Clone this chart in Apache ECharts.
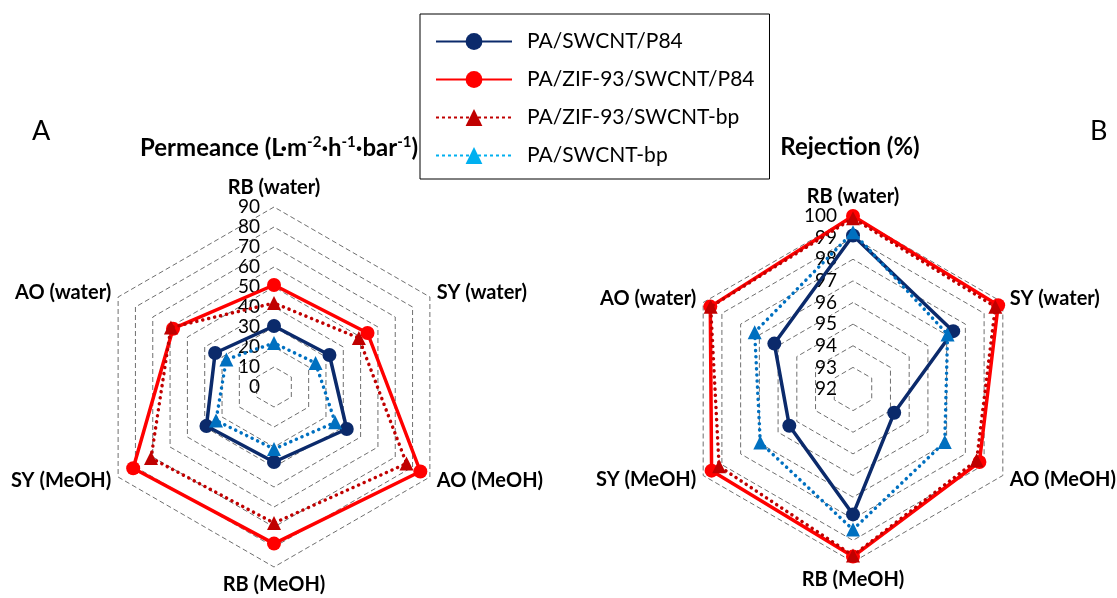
<!DOCTYPE html>
<html>
<head>
<meta charset="utf-8">
<script src="https://cdn.jsdelivr.net/npm/echarts@6/dist/echarts.min.js"></script>
<style>
  html, body { margin: 0; padding: 0; background: #fff; }
  #chart { width: 1117px; height: 598px; }
</style>
</head>
<body>
<div id="chart"></div>
<script>
// Axes, listed clockwise from the top
const axes = ['RB (water)', 'SY (water)', 'AO (MeOH)', 'RB (MeOH)', 'SY (MeOH)', 'AO (water)'];
const membranes = ['PA/SWCNT/P84', 'PA/ZIF-93/SWCNT/P84', 'PA/ZIF-93/SWCNT-bp', 'PA/SWCNT-bp'];

// Permeance, L·m-2·h-1·bar-1 (same axis order)
const permP84 = [30.5, 32, 42, 37.5, 39, 34];
const permZifP84 = [51, 54, 84.5, 78.3, 81.3, 58.3];
const permZifBp = [42, 49, 76.5, 68, 71, 59.5];
const permBp = [22, 24, 35.3, 31, 33.5, 27.5];

// Rejection, % (same axis order)
const rejP84 = [99.1, 97.35, 94.2, 97.8, 95.4, 96.2];
const rejZifP84 = [100, 99.75, 98.75, 99.75, 99.55, 99.62];
const rejZifBp = [99.9, 99.6, 98.6, 99.7, 99.15, 99.6];
const rejBp = [99.25, 97.05, 96.9, 98.5, 96.95, 97.25];

const permTicks = { min: 0, max: 90, split: 9 };
const rejTicks = { min: 92, max: 100, split: 8 };

const DOTS = [0.1, 6];
const styles = [
  { color: '#0b2a6b', legendColor: '#0b2a6b', symbol: 'circle', dash: 'solid', legendDash: 'solid', cap: 'butt' },
  { color: '#ff0000', legendColor: '#ff0000', symbol: 'circle', dash: 'solid', legendDash: 'solid', cap: 'butt' },
  { color: '#c00000', legendColor: '#c00000', symbol: 'triangle', dash: DOTS, legendDash: [3, 3], cap: 'round' },
  { color: '#0070c0', legendColor: '#00b0f0', symbol: 'triangle', dash: DOTS, legendDash: [3, 3], cap: 'round' }
];

const FONT = 'Lato, "Open Sans", sans-serif';

// ECharts lays radar indicators out counter-clockwise, so reverse all but the first
function ccw(arr) { return [arr[0]].concat(arr.slice(1).reverse()); }

function indicators(t) {
  return ccw(axes).map((name, i) => {
    const ind = { name: name, min: t.min, max: t.max };
    if (i === 0) ind.axisLabel = { show: true };
    return ind;
  });
}

function radarOpt(center, radius, t, margin) {
  return {
    center: center,
    radius: radius,
    startAngle: 90,
    shape: 'polygon',
    splitNumber: t.split,
    indicator: indicators(t),
    axisName: { color: '#000', fontFamily: FONT, fontWeight: 'bold', fontSize: 20 },
    nameGap: 8,
    axisLine: { show: false },
    axisTick: { show: false },
    axisLabel: {
      show: false, color: '#000', fontFamily: FONT, fontSize: 19,
      margin: margin
    },
    splitLine: { lineStyle: { color: '#6f6f6f', width: 1, type: [5, 3] } },
    splitArea: { show: false }
  };
}

const permSets = [permP84, permZifP84, permZifBp, permBp];
const rejSets = [rejP84, rejZifP84, rejZifBp, rejBp];

const series = [];
// line series carry the legend icons (line + marker)
membranes.forEach((name, i) => {
  const s = styles[i];
  series.push({
    type: 'line', name: name, xAxisIndex: 0, yAxisIndex: 0, data: [],
    symbol: s.symbol, symbolSize: 13,
    itemStyle: { color: s.legendColor },
    lineStyle: { color: s.legendColor, width: 3, type: s.legendDash }
  });
});
[permSets, rejSets].forEach((sets, r) => {
  membranes.forEach((name, i) => {
    const s = styles[i];
    series.push({
      type: 'radar', name: name, radarIndex: r,
      symbol: s.symbol, symbolSize: 14,
      z: 2 + i,
      itemStyle: { color: s.color },
      lineStyle: { color: s.color, width: 3.5, type: s.dash, cap: s.cap },
      data: [{ value: ccw(sets[i]), name: name }],
      emphasis: { disabled: true }
    });
  });
});

const titleRich = {
  b: { fontFamily: FONT, fontSize: 24, fontWeight: 'bold', color: '#000' },
  s: { fontFamily: FONT, fontSize: 15, fontWeight: 'bold', color: '#000', verticalAlign: 'top', padding: [0, 0, 11, 0] }
};

const chart = echarts.init(document.getElementById('chart'), null, { renderer: 'canvas' });
chart.setOption({
  animation: false,
  backgroundColor: '#fff',
  textStyle: { fontFamily: FONT },
  title: [
    { text: 'A', left: 27, top: 113, textStyle: { fontFamily: FONT, fontSize: 27, fontWeight: 'normal', color: '#000' } },
    { text: 'B', left: 1085, top: 113, textStyle: { fontFamily: FONT, fontSize: 27, fontWeight: 'normal', color: '#000' } },
    {
      text: '{b|Permeance (L·m}{s|-2}{b|·h}{s|-1}{b|·bar}{s|-1}{b|)}', left: 274, top: 130, textAlign: 'center',
      textStyle: { fontFamily: FONT, fontSize: 24, fontWeight: 'bold', color: '#000', rich: titleRich }
    },
    {
      text: '{b|Rejection (%)}', left: 845, top: 130, textAlign: 'center',
      textStyle: { fontFamily: FONT, fontSize: 24, fontWeight: 'bold', color: '#000', rich: titleRich }
    }
  ],
  grid: { show: false, left: 0, top: 0, width: 1, height: 1 },
  xAxis: { show: false, type: 'category', data: [] },
  yAxis: { show: false, type: 'value' },
  legend: {
    data: membranes,
    orient: 'vertical',
    left: 420, top: 14,
    padding: [17, 15, 13, 15],
    itemWidth: 76, itemHeight: 21, itemGap: 17,
    borderColor: '#000', borderWidth: 1,
    selectedMode: false,
    textStyle: { fontFamily: FONT, fontSize: 21, color: '#000', padding: [0, 0, 0, 10] }
  },
  radar: [
    radarOpt([274, 387], 180, permTicks, 14),
    radarOpt([853, 389], 173, rejTicks, 16)
  ],
  series: series
});
</script>
</body>
</html>
